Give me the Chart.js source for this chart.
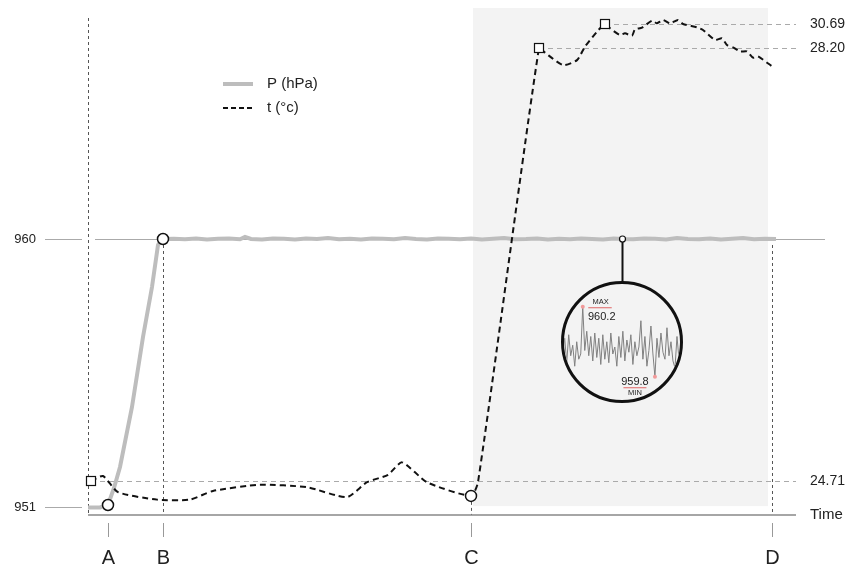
<!DOCTYPE html>
<html lang="en">
<head>
<meta charset="UTF-8">
<title>Pressure and temperature over time</title>
<script src="https://cdn.jsdelivr.net/npm/chart.js@4.4.1/dist/chart.umd.min.js"></script>
<style>
  body { margin: 0; background: #fff; }
  .wrap { position: relative; width: 858px; height: 573px; }
  .lens {
    position: absolute; left: 561px; top: 281px;
    width: 122px; height: 122px; box-sizing: border-box;
    border: 3px solid #111; border-radius: 50%;
    overflow: hidden; background: #f3f3f3;
  }
  canvas { display: block; }
</style>
</head>
<body>
<div class="wrap">
  <canvas id="main" width="858" height="573"></canvas>
  <div class="lens"><canvas id="lens" width="116" height="116"></canvas></div>
</div>
<script>
// pressure, hPa
const pressureTime = [0, 12, 20, 26, 32, 44, 55, 64, 70, 73, 75,
  86, 97, 108, 119, 130, 141, 152, 157, 163, 174, 185, 196, 207, 218, 229, 240,
  251, 262, 273, 284, 295, 306, 317, 328, 339, 350, 361, 372, 383, 394, 405, 416,
  427, 438, 449, 460, 471, 482, 493, 504, 515, 526, 534, 545, 556, 567, 578, 589,
  600, 611, 622, 633, 644, 655, 666, 677, 688];
const pressureValue = [950.983, 950.983, 951.067, 951.638, 952.343, 954.358, 956.709, 958.388, 959.798, 960.0, 960.0,
  960.01, 959.99, 960.02, 959.98, 960.01, 960.02, 959.99, 960.07, 960.00, 959.98,
  960.02, 960.01, 959.98, 960.02, 960.00, 960.03, 959.99, 960.01, 959.98, 960.02,
  960.01, 959.99, 960.03, 960.00, 959.98, 960.02, 960.01, 959.99, 960.02, 959.98,
  960.01, 960.03, 959.99, 960.00, 960.02, 959.98, 960.01, 959.99, 960.02, 960.00,
  959.98, 960.02, 960.00, 959.99, 960.02, 960.01, 959.98, 960.03, 960.00, 959.99,
  960.02, 959.98, 960.01, 960.03, 959.99, 960.01, 960.00];

// temperature, °C
const tempTime = [3, 15, 30, 69, 102, 125, 172, 219, 259, 279, 300, 314, 339, 383, 390,
  451, 457, 475, 489, 497, 509, 517, 522, 532, 537, 544, 547, 554, 564, 569,
  575, 582, 590, 595, 609, 615, 627, 634, 639, 645, 652, 659, 665, 670, 684];
const tempValue = [24.71, 24.75, 24.62, 24.56, 24.56, 24.63, 24.68, 24.66, 24.58, 24.70, 24.76, 24.86, 24.70, 24.59, 24.70,
  28.20, 28.16, 28.06, 28.10, 28.31, 29.88, 30.69, 30.24, 29.53, 29.71, 29.46, 30.13, 30.30, 31.04, 30.76,
  31.11, 30.76, 31.11, 30.69, 30.34, 30.06, 29.01, 29.19, 28.48, 28.24, 28.17, 28.17, 28.12, 28.13, 28.05];

// broken temperature axis: labelled values and where they sit on the pressure axis
const tempKnots = [24.71, 28.20, 30.69];
const tempKnotsOnP = [951.873, 966.424, 967.220];

const pressureTicks = [951, 960];
const markerNames = ['A', 'B', 'C', 'D'];
const markerTime = [20, 75, 383, 684];
const markerSeries = ['P', 'P', 't', 'P'];
const circledMarkers = ['A', 'B', 'C'];
const shadeFrom = 385, shadeTo = 680, shadeFloor = 951.03;
const lensTime = 534;

// magnified pressure noise
const lensValue = [959.94, 960.02, 959.88, 960.04, 959.92, 959.98, 959.86, 960.00, 959.90, 959.93,
  960.20, 959.95, 960.06, 959.92, 960.03, 959.89, 960.05, 959.91, 960.02, 959.87,
  960.04, 959.90, 960.00, 959.88, 960.05, 959.93, 959.97, 959.86, 960.03, 959.91,
  960.06, 959.89, 960.01, 959.94, 960.04, 959.87, 960.00, 959.92, 959.97, 960.12,
  959.90, 960.03, 959.86, 959.95, 960.09, 959.93, 959.80, 960.02, 959.91, 960.05,
  959.94, 959.90, 960.08, 959.92, 960.00, 959.89, 959.85, 960.03, 959.90, 960.01];

const FONT = '"Liberation Sans", Arial, sans-serif';

function warp(t) {
  const k = tempKnots, p = tempKnotsOnP;
  const i = t < k[1] ? 0 : 1;
  return p[i] + (t - k[i]) * (p[i + 1] - p[i]) / (k[i + 1] - k[i]);
}
function unwarp(v) {
  const k = tempKnots, p = tempKnotsOnP;
  const i = v < p[1] ? 0 : 1;
  return k[i] + (v - p[i]) * (k[i + 1] - k[i]) / (p[i + 1] - p[i]);
}

class WarpScale extends Chart.LinearScale {
  static id = 'warp';
  static defaults = {};
  getPixelForValue(v) { return super.getPixelForValue(warp(v)); }
  getValueForPixel(px) { return unwarp(super.getValueForPixel(px)); }
}
Chart.register(WarpScale);

const tempMarkIdx = tempKnots.map(v => tempValue.indexOf(v));

// pixel of marker i on the series it belongs to
function markerY(chart, i) {
  const t = markerTime[i];
  if (markerSeries[i] === 't') {
    return chart.scales.yT.getPixelForValue(tempValue[tempTime.indexOf(t)]);
  }
  const pi = pressureTime.indexOf(t);
  const v = pi >= 0 ? pressureValue[pi] : pressureTicks[1];
  return chart.scales.y.getPixelForValue(v);
}

const overlay = {
  id: 'overlay',
  beforeDatasetsDraw(chart) {
    const {ctx, chartArea: a} = chart;
    const x = chart.scales.x, y = chart.scales.y, yT = chart.scales.yT;
    ctx.save();

    // shaded window
    const sx0 = x.getPixelForValue(shadeFrom), sx1 = x.getPixelForValue(shadeTo);
    ctx.fillStyle = '#f3f3f3';
    ctx.fillRect(sx0, a.top, sx1 - sx0, y.getPixelForValue(shadeFloor) - a.top);

    // pressure reference lines
    ctx.strokeStyle = '#aaa';
    ctx.lineWidth = 1;
    ctx.fillStyle = '#222';
    ctx.font = '13px ' + FONT;
    ctx.textAlign = 'right';
    ctx.textBaseline = 'middle';
    pressureTicks.forEach(v => {
      const py = Math.round(y.getPixelForValue(v)) + 0.5;
      ctx.beginPath();
      ctx.moveTo(45, py);
      ctx.lineTo(a.left - 6, py);
      if (v === pressureTicks[pressureTicks.length - 1]) {
        ctx.moveTo(a.left + 7, py);
        ctx.lineTo(a.right + 29, py);
      }
      ctx.stroke();
      ctx.fillText(String(v), 36, py);
    });

    // dashed drop lines
    ctx.strokeStyle = '#555';
    ctx.setLineDash([3, 3]);
    ctx.beginPath();
    ctx.moveTo(a.left + 0.5, a.top + 10);
    ctx.lineTo(a.left + 0.5, a.bottom);
    markerTime.forEach((t, i) => {
      if (i === 0) return;
      const px = Math.round(x.getPixelForValue(t)) + 0.5;
      ctx.moveTo(px, markerY(chart, i) + 6);
      ctx.lineTo(px, a.bottom);
    });
    ctx.stroke();

    // temperature guides
    ctx.strokeStyle = '#aaa';
    ctx.setLineDash([5, 4]);
    ctx.font = '14px ' + FONT;
    ctx.textAlign = 'left';
    tempKnots.forEach((v, k) => {
      const i = tempMarkIdx[k];
      const py = Math.round(yT.getPixelForValue(v)) + 0.5;
      ctx.beginPath();
      ctx.moveTo(x.getPixelForValue(tempTime[i]), py);
      ctx.lineTo(a.right, py);
      ctx.stroke();
      ctx.fillText(v.toFixed(2), a.right + 14, py);
    });
    ctx.setLineDash([]);

    // time axis
    ctx.strokeStyle = '#888';
    ctx.lineWidth = 1.5;
    ctx.beginPath();
    ctx.moveTo(a.left, a.bottom);
    ctx.lineTo(a.right, a.bottom);
    ctx.stroke();
    ctx.font = '15px ' + FONT;
    ctx.fillText('Time', a.right + 14, a.bottom);

    ctx.strokeStyle = '#999';
    ctx.lineWidth = 1;
    ctx.font = '20px ' + FONT;
    ctx.textAlign = 'center';
    markerTime.forEach((t, i) => {
      const px = Math.round(x.getPixelForValue(t)) + 0.5;
      ctx.beginPath();
      ctx.moveTo(px, a.bottom + 8);
      ctx.lineTo(px, a.bottom + 22);
      ctx.stroke();
      ctx.fillText(markerNames[i], px, a.bottom + 43);
    });

    // legend
    const lx = 223, lw = 30;
    ctx.lineWidth = 4;
    ctx.strokeStyle = '#bdbdbd';
    ctx.beginPath();
    ctx.moveTo(lx, 84);
    ctx.lineTo(lx + lw, 84);
    ctx.stroke();
    ctx.lineWidth = 2;
    ctx.strokeStyle = '#111';
    ctx.setLineDash([5, 3]);
    ctx.beginPath();
    ctx.moveTo(lx, 108);
    ctx.lineTo(lx + lw, 108);
    ctx.stroke();
    ctx.setLineDash([]);
    ctx.font = '15px ' + FONT;
    ctx.textAlign = 'left';
    ctx.fillText(chart.data.datasets[1].label, lx + 44, 84);
    ctx.fillText(chart.data.datasets[0].label, lx + 44, 108);

    ctx.restore();
  },
  afterDatasetsDraw(chart) {
    const {ctx} = chart;
    const x = chart.scales.x, y = chart.scales.y, yT = chart.scales.yT;
    ctx.save();
    ctx.fillStyle = '#fff';
    ctx.strokeStyle = '#111';
    const circle = (px, py, r) => {
      ctx.beginPath();
      ctx.arc(px, py, r, 0, Math.PI * 2);
      ctx.fill();
      ctx.stroke();
    };

    // lens connector
    const li = pressureTime.indexOf(lensTime);
    const lpx = Math.round(x.getPixelForValue(lensTime)) + 0.5;
    const lpy = y.getPixelForValue(pressureValue[li]);
    const lensTop = document.querySelector('.lens').offsetTop;
    ctx.lineWidth = 2;
    ctx.beginPath();
    ctx.moveTo(lpx, lpy);
    ctx.lineTo(lpx, lensTop + 1);
    ctx.stroke();
    ctx.lineWidth = 1.2;
    circle(lpx, lpy, 3);

    // event markers
    ctx.lineWidth = 1.5;
    markerNames.forEach((name, i) => {
      if (!circledMarkers.includes(name)) return;
      circle(x.getPixelForValue(markerTime[i]), markerY(chart, i), 5.5);
    });

    // temperature squares
    ctx.lineWidth = 1.2;
    tempMarkIdx.forEach(i => {
      const px = Math.round(x.getPixelForValue(tempTime[i]));
      const py = Math.round(yT.getPixelForValue(tempValue[i]));
      ctx.fillRect(px - 4.5, py - 4.5, 9, 9);
      ctx.strokeRect(px - 4.5, py - 4.5, 9, 9);
    });
    ctx.restore();
  }
};

new Chart(document.getElementById('main'), {
  type: 'line',
  data: {
    datasets: [
      {
        label: 't (°c)',
        data: tempTime.map((t, i) => ({x: t, y: tempValue[i]})),
        yAxisID: 'yT',
        borderColor: '#111',
        borderWidth: 2,
        borderDash: [6, 4],
        pointRadius: 0,
        tension: 0.2,
        order: 0
      },
      {
        label: 'P (hPa)',
        data: pressureTime.map((t, i) => ({x: t, y: pressureValue[i]})),
        yAxisID: 'y',
        borderColor: '#bdbdbd',
        borderWidth: 4,
        pointRadius: 0,
        tension: 0,
        order: 1
      }
    ]
  },
  options: {
    responsive: false,
    animation: false,
    events: [],
    layout: { padding: { left: 88, right: 62, top: 8, bottom: 58 } },
    scales: {
      x: { type: 'linear', min: 0, max: 708, bounds: 'data', display: false },
      y: { type: 'linear', min: 950.7313, max: 967.757, bounds: 'data', display: false },
      yT: { type: 'warp', min: 950.7313, max: 967.757, bounds: 'data', display: false }
    },
    plugins: { legend: { display: false }, tooltip: { enabled: false } }
  },
  plugins: [overlay]
});

// magnifier
const lensNotes = {
  id: 'lensNotes',
  afterDatasetsDraw(chart) {
    const {ctx} = chart;
    const x = chart.scales.x, y = chart.scales.y;
    const hi = Math.max(...lensValue), lo = Math.min(...lensValue);
    const iHi = lensValue.indexOf(hi), iLo = lensValue.indexOf(lo);
    const hx = x.getPixelForValue(iHi), hy = y.getPixelForValue(hi);
    const mx = x.getPixelForValue(iLo), my = y.getPixelForValue(lo);
    ctx.save();
    ctx.fillStyle = '#f29a9a';
    [[hx, hy], [mx, my]].forEach(([px, py]) => {
      ctx.beginPath();
      ctx.arc(px, py, 2, 0, Math.PI * 2);
      ctx.fill();
    });
    ctx.strokeStyle = '#e06666';
    ctx.lineWidth = 1.2;
    ctx.beginPath();
    ctx.moveTo(hx + 5.5, hy + 1);
    ctx.lineTo(hx + 29, hy + 1);
    ctx.moveTo(mx - 31.5, my + 11);
    ctx.lineTo(mx - 8.5, my + 11);
    ctx.stroke();
    ctx.fillStyle = '#222';
    ctx.textAlign = 'center';
    ctx.textBaseline = 'middle';
    ctx.font = '7.5px ' + FONT;
    ctx.fillText('MAX', hx + 18, hy - 5);
    ctx.fillText('MIN', mx - 20, my + 16.6);
    ctx.font = '11px ' + FONT;
    ctx.fillText(hi.toFixed(1), hx + 19, hy + 10);
    ctx.fillText(lo.toFixed(1), mx - 20, my + 5);
    ctx.restore();
  }
};

new Chart(document.getElementById('lens'), {
  type: 'line',
  data: {
    datasets: [{
      data: lensValue.map((v, i) => ({x: i, y: v})),
      borderColor: '#808080',
      borderWidth: 1,
      pointRadius: 0,
      tension: 0
    }]
  },
  options: {
    responsive: false,
    animation: false,
    events: [],
    layout: { padding: 0 },
    scales: {
      x: { type: 'linear', min: 0.65, max: 58.5, bounds: 'data', display: false },
      y: { type: 'linear', min: 959.667, max: 960.33, bounds: 'data', display: false }
    },
    plugins: { legend: { display: false }, tooltip: { enabled: false } }
  },
  plugins: [lensNotes]
});
</script>
</body>
</html>
